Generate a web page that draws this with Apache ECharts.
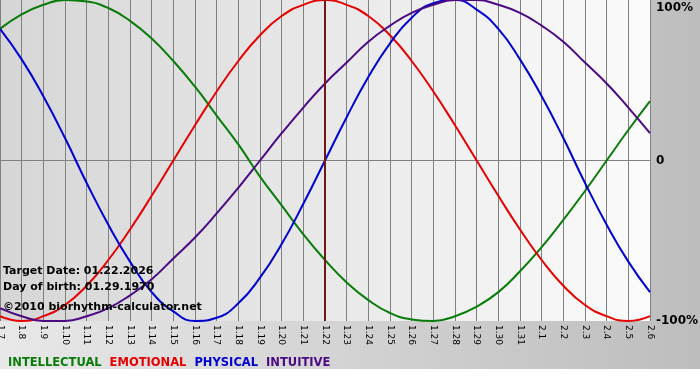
<!DOCTYPE html>
<html>
<head>
<meta charset="utf-8">
<script src="https://cdn.jsdelivr.net/npm/echarts@6/dist/echarts.min.js"></script>
<style>
  html, body { margin: 0; padding: 0; background: #fff; }
  #chart { width: 700px; height: 380px; }
</style>
</head>
<body>
<div id="chart"></div>
<script>
// Biorhythm chart, target 01.22.2026, born 01.29.1970
const DAYS = ['1.7', '1.8', '1.9', '1.10', '1.11', '1.12', '1.13', '1.14', '1.15', '1.16',
  '1.17', '1.18', '1.19', '1.20', '1.21', '1.22', '1.23', '1.24', '1.25', '1.26', '1.27',
  '1.28', '1.29', '1.30', '1.31', '2.1', '2.2', '2.3', '2.4', '2.5', '2.6'];
const TARGET_DAY = '1.22';

const INTELLECTUAL = [0.82, 0.91, 0.97, 1.0, 0.99, 0.95, 0.87, 0.76, 0.62, 0.46, 0.28,
  0.1, -0.1, -0.28, -0.46, -0.62, -0.76, -0.87, -0.95, -0.99, -1.0, -0.97, -0.91,
  -0.82, -0.69, -0.54, -0.37, -0.19, 0.0, 0.19, 0.37];
const EMOTIONAL = [-0.97, -1.0, -0.97, -0.9, -0.78, -0.62, -0.43, -0.22, 0.0, 0.22, 0.43,
  0.62, 0.78, 0.9, 0.97, 1.0, 0.97, 0.9, 0.78, 0.62, 0.43, 0.22, 0.0, -0.22, -0.43,
  -0.62, -0.78, -0.9, -0.97, -1.0, -0.97];
const PHYSICAL = [0.82, 0.63, 0.4, 0.14, -0.14, -0.4, -0.63, -0.82, -0.94, -1.0, -0.98,
  -0.89, -0.73, -0.52, -0.27, 0.0, 0.27, 0.52, 0.73, 0.89, 0.98, 1.0, 0.94, 0.82,
  0.63, 0.4, 0.14, -0.14, -0.4, -0.63, -0.82];
const INTUITIVE = [-0.92, -0.97, -1.0, -1.0, -0.97, -0.92, -0.84, -0.74, -0.61, -0.48,
  -0.33, -0.17, 0.0, 0.17, 0.33, 0.48, 0.61, 0.74, 0.84, 0.92, 0.97, 1.0, 1.0, 0.97,
  0.92, 0.84, 0.74, 0.61, 0.48, 0.33, 0.17];

const COLORS = {
  INTELLECTUAL: '#087c08',
  EMOTIONAL: '#e60000',
  PHYSICAL: '#0000d0',
  INTUITIVE: '#4b0a82',
};
const FONT = '"DejaVu Sans", Verdana, sans-serif';

const chart = echarts.init(document.getElementById('chart'));

const lineSeries = (name, data) => ({
  name, type: 'line', data,
  smooth: true, showSymbol: false, symbol: 'none',
  lineStyle: { color: COLORS[name], width: 2 },
  itemStyle: { color: COLORS[name] },
});

chart.setOption({
  animation: false,
  backgroundColor: '#fff',
  graphic: [
    // grey panel behind the axes, white strip at the very bottom
    { type: 'rect', z: -10, shape: { x: 0, y: 0, width: 700, height: 369 },
      style: { fill: new echarts.graphic.LinearGradient(0, 0, 1, 0, [
        { offset: 0, color: '#e8e8e8' }, { offset: 1, color: '#bdbdbd' }]) } },
    { type: 'text', left: 3, top: 266, z: 10,
      style: { text: 'Target Date: 01.22.2026', font: 'bold 11px ' + FONT, fill: '#000' } },
    { type: 'text', left: 3, top: 282, z: 10,
      style: { text: 'Day of birth: 01.29.1970', font: 'bold 11px ' + FONT, fill: '#000' } },
    { type: 'text', left: 3, top: 302, z: 10,
      style: { text: '©2010 biorhythm-calculator.net', font: 'bold 11px ' + FONT, fill: '#000' } },
  ],
  legend: {
    left: -2, top: 352,
    icon: 'none', itemWidth: 0, itemHeight: 10, itemGap: 3,
    selectedMode: false,
    textStyle: { fontFamily: FONT, fontSize: 11.5, fontWeight: 'bold' },
    data: Object.keys(COLORS).map(n => ({ name: n, textStyle: { color: COLORS[n] } })),
  },
  grid: {
    left: 0, right: 50, top: 0, bottom: 59,
    outerBoundsMode: 'none',
    show: true, borderWidth: 0,
    backgroundColor: new echarts.graphic.LinearGradient(0, 0, 1, 0, [
      { offset: 0, color: '#d6d6d6' }, { offset: 1, color: '#fbfbfb' }]),
  },
  xAxis: {
    type: 'category', data: DAYS, boundaryGap: false,
    axisLine: { show: true, lineStyle: { color: '#808080', width: 1 } },
    axisTick: { show: true, length: 3, interval: 0, lineStyle: { color: '#808080' } },
    axisLabel: { interval: 0, rotate: -90, margin: 4, color: '#000',
      fontFamily: FONT, fontSize: 9 },
    splitLine: { show: true, interval: 0, lineStyle: { color: '#808080', width: 1 } },
  },
  yAxis: {
    type: 'value', position: 'right', min: -1, max: 1, interval: 1,
    axisLine: { show: false }, axisTick: { show: false },
    axisLabel: {
      margin: 6, color: '#000', fontFamily: FONT, fontSize: 12, fontWeight: 'bold',
      formatter: v => v === 1 ? '{top|100%}' : v === 0 ? '0' : '-100%',
      rich: { top: { fontFamily: FONT, fontSize: 12, fontWeight: 'bold', color: '#000',
        padding: [16, 0, 0, 0] } },
    },
    splitLine: { show: true,
      lineStyle: { color: ['rgba(0,0,0,0)', '#808080', 'rgba(0,0,0,0)'], width: 1 } },
  },
  series: [
    {
      ...lineSeries('INTELLECTUAL', INTELLECTUAL),
      markLine: {
        silent: true, symbol: ['none', 'none'], label: { show: false },
        lineStyle: { color: '#701818', width: 2, type: 'solid' },
        data: [{ xAxis: TARGET_DAY }],
      },
    },
    lineSeries('EMOTIONAL', EMOTIONAL),
    lineSeries('PHYSICAL', PHYSICAL),
    lineSeries('INTUITIVE', INTUITIVE),
  ],
});
</script>
</body>
</html>
